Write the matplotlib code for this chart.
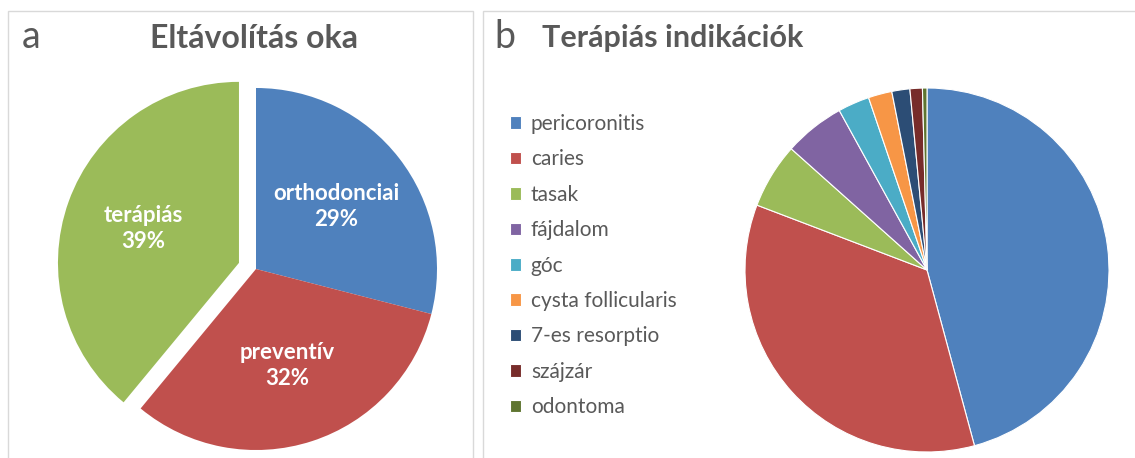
import matplotlib.pyplot as plt
from matplotlib.patches import Rectangle

plt.rcParams['font.family'] = ['Lato', 'DejaVu Sans']

# panel a: reason for removal
reason_labels = ['orthodonciai', 'preventív', 'terápiás']
reason_values = [29, 32, 39]
reason_colors = ['#4F81BD', '#C0504D', '#9BBB59']

# panel b: therapeutic indications (percent)
ind_labels = ['pericoronitis', 'caries', 'tasak', 'fájdalom', 'góc',
              'cysta follicularis', '7-es resorptio', 'szájzár', 'odontoma']
ind_values = [45.8, 35.0, 5.8, 5.4, 2.8, 2.1, 1.6, 1.1, 0.4]
ind_colors = ['#4F81BD', '#C0504D', '#9BBB59', '#8064A2', '#4BACC6',
              '#F79646', '#2C4D75', '#772C2A', '#5F7530']

W, H = 1135, 458
fig = plt.figure(figsize=(W / 100, H / 100), dpi=100)
grey = '#595959'

# panel frames
fig.patches.append(Rectangle((8 / W, -0.01), 465 / W, (H - 11) / H + 0.01,
                             transform=fig.transFigure, fill=False,
                             edgecolor='#d9d9d9', linewidth=1))
fig.patches.append(Rectangle((483 / W, -0.01), 660 / W, (H - 11) / H + 0.01,
                             transform=fig.transFigure, fill=False,
                             edgecolor='#d9d9d9', linewidth=1))


def pie_axes(x0, x1, top):
    return fig.add_axes([x0 / W, 0, (x1 - x0) / W, (H - top) / H])


def fit_pie(ax, x0, x1, top, cx, cy, r):
    # data unit = pie radius, pie centre at pixel (cx, cy) from top-left
    ax.set_aspect('auto')
    ax.set_xlim((x0 - cx) / r, (x1 - cx) / r)
    ax.set_ylim(-(H - cy) / r, ((H - top) - (H - cy)) / r)
    ax.axis('off')


# ---- panel a
fig.text(22 / W, 1 - 37 / H, 'a', fontsize=27, color=grey, va='center')
fig.text(254 / W, 1 - 38 / H, 'Eltávolítás oka', fontsize=23,
         fontweight='bold', color=grey, ha='center', va='center')

ax1 = pie_axes(10, 470, 60)
ax1.pie(reason_values, colors=reason_colors, startangle=90, counterclock=False,
        explode=[0, 0, 0.1],
        labels=[f'{n}\n{v}%' for n, v in zip(reason_labels, reason_values)],
        labeldistance=0.56,
        textprops=dict(color='white', fontweight='bold', fontsize=16,
                       ha='center', va='center', linespacing=1.3))
fit_pie(ax1, 10, 470, 60, 256, 269, 181)

# ---- panel b
fig.text(494 / W, 1 - 37 / H, 'b', fontsize=27, color=grey, va='center')
fig.text(542 / W, 1 - 38 / H, 'Terápiás indikációk', fontsize=22,
         fontweight='bold', color=grey, ha='left', va='center')

ax2 = pie_axes(700, 1130, 60)
wedges, _ = ax2.pie(ind_values, colors=ind_colors, startangle=90,
                    counterclock=False,
                    wedgeprops=dict(edgecolor='white', linewidth=0.8))
fit_pie(ax2, 700, 1130, 60, 927, 270, 182)

fig.legend(wedges, ind_labels, loc='upper left',
           bbox_to_anchor=(510 / W, 1 - 114 / H), frameon=False,
           fontsize=15, labelcolor=grey, handlelength=0.55, handleheight=0.55,
           handletextpad=0.45, labelspacing=0.74, borderaxespad=0,
           borderpad=0)

fig.savefig('out.png', dpi=100)
